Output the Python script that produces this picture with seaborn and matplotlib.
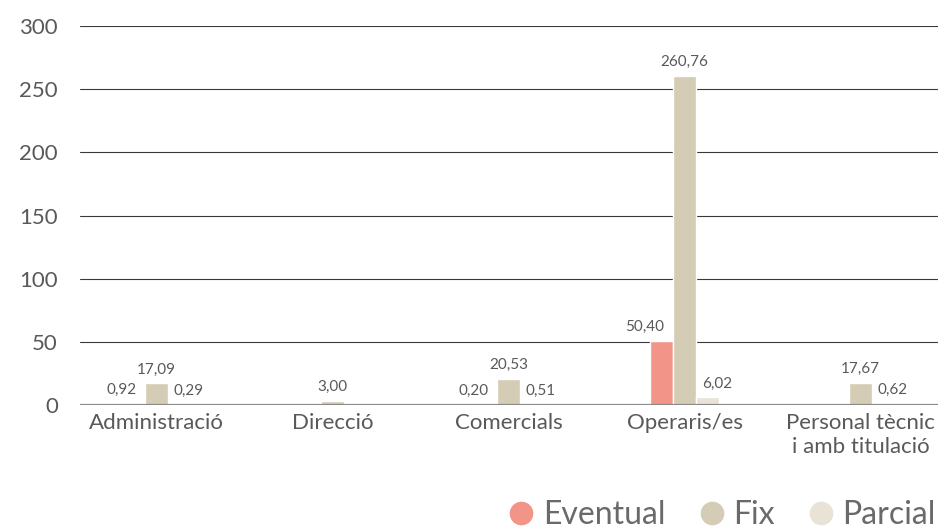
import pandas as pd
import numpy as np
import matplotlib.pyplot as plt
from matplotlib.lines import Line2D
import seaborn as sns

sns.set_style('white')
plt.rcParams['font.family'] = ['Lato', 'DejaVu Sans']
plt.rcParams['text.color'] = '#595959'
plt.rcParams['xtick.color'] = '#595959'
plt.rcParams['ytick.color'] = '#595959'

categories = ['Administració', 'Direcció', 'Comercials', 'Operaris/es',
              'Personal tècnic\ni amb titulació']
series = ['Eventual', 'Fix', 'Parcial']
eventual = [0.92, np.nan, 0.20, 50.40, np.nan]
fix = [17.09, 3.00, 20.53, 260.76, 17.67]
parcial = [0.29, np.nan, 0.51, 6.02, 0.62]
yticks = [0, 50, 100, 150, 200, 250, 300]

colors = {'Eventual': '#F29487', 'Fix': '#D5CCB6', 'Parcial': '#E9E3D7'}

df = pd.DataFrame({
    'categoria': categories * 3,
    'tipus': ['Eventual'] * 5 + ['Fix'] * 5 + ['Parcial'] * 5,
    'valor': eventual + fix + parcial,
})

fig = plt.figure(figsize=(9.38, 5.31), dpi=100)
ax = fig.add_axes([0.0853, 0.2373, 0.9147, 0.7137])

sns.barplot(data=df, x='categoria', y='valor', hue='tipus', hue_order=series,
            order=categories, palette=colors, width=0.39, gap=0,
            saturation=1, legend=False, ax=ax)

# labels: eventual to the left, parcial to the right, fix centered
offsets = {'Eventual': (2, 5, 'right'), 'Fix': (0, 5, 'center'), 'Parcial': (-4, 5, 'left')}
for cont, name in zip(ax.containers, series):
    dx, dy, ha = offsets[name]
    for bar in cont:
        h = bar.get_height()
        if np.isnan(h):
            continue
        ax.annotate(f'{h:.2f}'.replace('.', ','),
                    xy=(bar.get_x() + bar.get_width() / 2, h),
                    xytext=(dx, dy), textcoords='offset points',
                    ha=ha, va='bottom', fontsize=11, color='#595959')

ax.set_ylim(0, 300)
ax.set_xlim(-0.435, 4.44)
ax.set_yticks(yticks)
ax.set_yticklabels([str(t) for t in yticks], fontsize=16)
ax.tick_params(axis='x', labelsize=16, length=0, pad=6)
ax.tick_params(axis='y', length=0, pad=16)
ax.set_xlabel('')
ax.set_ylabel('')
for y in yticks[1:]:
    ax.axhline(y, color='#3a3a3a', lw=0.8, zorder=0)
ax.axhline(0, color='#8a8a8a', lw=1.6, zorder=3)
for s in ax.spines.values():
    s.set_visible(False)

handles = [Line2D([], [], marker='o', ls='', markersize=16, color=colors[s]) for s in series]
fig.legend(handles, series, loc='lower right', bbox_to_anchor=(1.028, -0.052), ncol=3,
           frameon=False, fontsize=23, handlelength=1.0, handletextpad=0.17,
           columnspacing=0.95, labelcolor='#6a6a6a')

plt.savefig('out.png', dpi=100)
